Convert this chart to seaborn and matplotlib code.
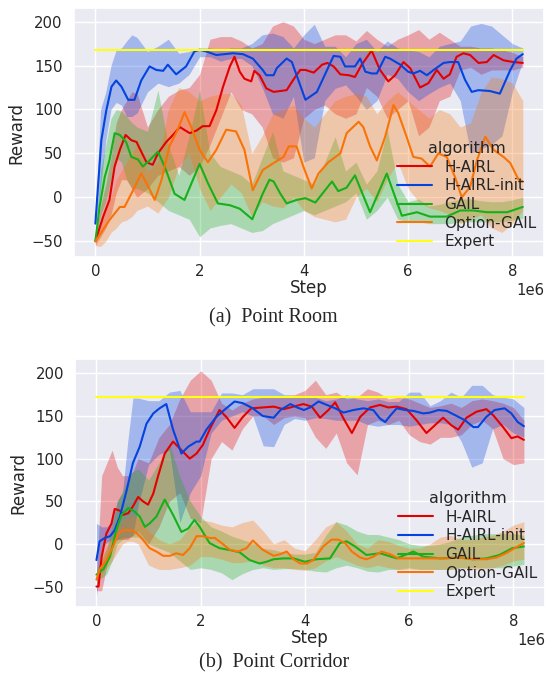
import numpy as np
import pandas as pd
import matplotlib
matplotlib.use('Agg')
import matplotlib.pyplot as plt
import seaborn as sns

algorithms = ['H-AIRL', 'H-AIRL-init', 'GAIL', 'Option-GAIL', 'Expert']
palette = dict(zip(algorithms, sns.xkcd_palette(['red', 'blue', 'green', 'orange', 'yellow'])))

# ---------------- (a) Point Room : mean curves (step in 1e6) ----------------
room_hairl_x = [0, 0.15, 0.27, 0.37, 0.47, 0.58, 0.69, 0.79, 0.88, 0.98, 1.1, 1.2, 1.36, 1.49, 1.62,
                1.81, 1.94, 2.06, 2.19, 2.32, 2.45, 2.58, 2.67, 2.77, 2.86, 2.99, 3.05, 3.15, 3.28, 3.42,
                3.67, 3.8, 3.93, 4.03, 4.19, 4.35, 4.45, 4.57, 4.70, 4.86, 4.98, 5.11, 5.3, 5.46, 5.62,
                5.75, 5.91, 6.04, 6.23, 6.39, 6.55, 6.68, 6.8, 6.93, 7.06, 7.19, 7.35, 7.51, 7.64, 7.83,
                8.02, 8.2]
room_hairl_y = [-50, -22, -3, 35, 54, 71, 65, 63, 52, 40, 37, 50, 63, 71, 80,
                73, 76, 81, 81, 99, 126, 149, 160, 143, 135, 132, 144, 139, 124, 120,
                122, 134, 145, 145, 142, 151, 153, 149, 140, 139, 137, 151, 167, 145, 132,
                139, 154, 147, 125, 130, 145, 135, 140, 160, 164, 162, 153, 154, 162, 156,
                154, 153]

room_init_x = [0, 0.05, 0.115, 0.21, 0.31, 0.4, 0.5, 0.63, 0.75, 0.88, 1.04, 1.17, 1.3, 1.39, 1.55,
               1.74, 1.9, 2.0, 2.13, 2.32, 2.64, 2.83, 3.02, 3.21, 3.28, 3.42, 3.48, 3.67, 3.77, 4.03,
               4.25, 4.43, 4.57, 4.70, 4.79, 4.98, 5.08, 5.18, 5.30, 5.40, 5.56, 5.65, 5.85, 6.0, 6.10,
               6.23, 6.36, 6.49, 6.68, 6.8, 6.96, 7.09, 7.22, 7.35, 7.57, 7.76, 7.96, 8.08, 8.2]
room_init_y = [-30, 12, 65, 99, 126, 133, 126, 111, 111, 133, 149, 145, 144, 151, 140,
               149, 166, 168, 166, 162, 164, 163, 158, 145, 139, 139, 147, 158, 154, 111,
               120, 143, 161, 160, 149, 149, 158, 143, 141, 141, 160, 158, 151, 143, 141,
               144, 139, 145, 153, 154, 154, 134, 120, 122, 121, 118, 145, 158, 163]

room_gail_x = [0, 0.08, 0.18, 0.27, 0.37, 0.47, 0.59, 0.69, 0.82, 0.91, 1.04, 1.2, 1.33, 1.52, 1.71,
               2.0, 2.16, 2.35, 2.58, 2.77, 3.01, 3.21, 3.34, 3.42, 3.55, 3.67, 3.86, 4.03, 4.22, 4.54,
               4.66, 4.82, 4.98, 5.27, 5.59, 5.88, 6.17, 6.42, 6.74, 7.0, 7.25, 7.51, 7.9, 8.2]
room_gail_y = [-50, -11, 23, 42, 73, 71, 63, 46, 43, 35, 42, 52, 35, 4, -3,
               38, 16, -7, -9, -13, -25, 4, 20, 18, 4, -7, -3, -1, -6, 18,
               7, 11, 25, -17, 27, -21, -17, -22, -22, -15, -15, -17, -17, -11]

room_option_x = [0, 0.08, 0.27, 0.47, 0.56, 0.69, 0.88, 1.0, 1.14, 1.27, 1.42, 1.58, 1.71, 1.84, 2.0,
                 2.16, 2.32, 2.51, 2.7, 2.86, 3.02, 3.21, 3.42, 3.61, 3.71, 3.86, 3.99, 4.15, 4.28, 4.47,
                 4.70, 4.82, 5.05, 5.14, 5.27, 5.4, 5.56, 5.72, 5.81, 5.97, 6.1, 6.26, 6.42, 6.58, 6.74,
                 6.9, 7.03, 7.19, 7.32, 7.48, 7.64, 7.83, 7.96, 8.12, 8.2]
room_option_y = [-50, -43, -26, -11, -11, 4, 27, 14, -3, 20, 58, 77, 97, 80, 54,
                 40, 54, 77, 75, 54, 8, 31, 39, 46, 58, 58, 35, 10, 27, 40,
                 50, 73, 86, 80, 58, 42, 69, 105, 96, 69, 46, 44, 35, 50, 46,
                 23, 0, 12, 42, 69, 54, 46, 39, 20, 18]

room_expert_x = [0, 8.2]
room_expert_y = [167.7, 167.7]

# confidence bands, sampled on a coarser step grid
band_grid = [0, 0.1, 0.2, 0.3, 0.4, 0.5, 0.6, 0.7, 0.8, 1.0, 1.2, 1.4, 1.6, 1.8, 2.0, 2.2, 2.4, 2.6,
             2.8, 3.0, 3.2, 3.4, 3.6, 3.8, 4.0, 4.2, 4.4, 4.6, 4.8, 5.0, 5.2, 5.4, 5.6, 5.8, 6.0, 6.2,
             6.4, 6.6, 6.8, 7.0, 7.2, 7.4, 7.6, 7.8, 8.0, 8.2]

room_hairl_lo = [-55, -45, -35, -20, 5, 20, 20, 10, 0, 10, 25, 30, 35, 25, 35, 60, 90, 120, 100, 95,
                 80, 45, 40, 45, 90, 100, 105, 95, 90, 95, 125, 115, 90, 100, 110, 70, 80, 110, 115, 145,
                 148, 140, 145, 145, 145, 148]
room_hairl_hi = [-45, -10, 15, 45, 85, 100, 110, 120, 118, 80, 100, 115, 122, 125, 140, 180, 183, 183, 178, 170,
                 175, 195, 200, 195, 180, 175, 180, 185, 185, 178, 190, 180, 172, 180, 185, 191, 180, 188, 180, 172,
                 172, 170, 170, 168, 165, 160]
room_init_lo = [-35, 10, 65, 100, 108, 105, 92, 92, 96, 120, 130, 126, 130, 140, 160, 160, 155, 158, 158, 150,
                125, 95, 90, 115, 40, 45, 110, 124, 128, 115, 100, 110, 140, 135, 120, 110, 118, 125, 130, 110,
                50, 55, 60, 70, 120, 155]
room_init_hi = [-25, 100, 120, 150, 168, 170, 178, 185, 182, 166, 172, 180, 164, 166, 170, 170, 168, 170, 170, 175,
                185, 187, 183, 170, 185, 197, 172, 172, 160, 175, 180, 166, 178, 170, 168, 166, 160, 172, 175, 178,
                195, 198, 195, 185, 175, 170]
room_gail_lo = [-52, -20, -5, 20, 45, 40, 20, 10, 10, 5, -5, -15, -20, -25, -45, -35, -32, -30, -35, -40,
                -38, -30, -25, -20, -15, -20, -15, -10, -5, 5, -25, -15, 0, -25, -28, -28, -30, -30, -30, -28,
                -28, -28, -28, -28, -26, -24]
room_gail_hi = [-48, 30, 60, 90, 100, 98, 92, 85, 80, 75, 122, 60, 25, 70, 122, 50, 35, 30, 25, 15,
                45, 75, 30, 25, 20, 15, 40, 69, 30, 40, 15, 30, 77, 15, -5, -2, -10, -8, -5, -2,
                -2, -4, -5, -5, -3, 0]
room_option_lo = [-55, -56, -50, -40, -35, -28, -26, -22, -15, -10, -18, 0, 35, 50, 10, -15, 0, 15, 5, -22,
                  -5, -10, -12, 0, -15, -22, -25, -28, -25, 0, 10, -5, 20, 40, 10, -5, -12, -15, -20, -30,
                  -25, -20, -35, -40, -30, -15]
room_option_hi = [-45, -30, -15, 0, 20, 30, 40, 50, 60, 30, 40, 100, 125, 120, 110, 115, 118, 118, 105, 50,
                  70, 95, 100, 105, 90, 80, 95, 110, 115, 118, 115, 95, 110, 120, 110, 100, 90, 100, 95, 80,
                  85, 120, 137, 135, 130, 110]

# ---------------- (b) Point Corridor ----------------
corr_hairl_x = [0, 0.04, 0.1, 0.19, 0.29, 0.35, 0.45, 0.51, 0.61, 0.7, 0.8, 0.89, 0.99, 1.09, 1.18,
                1.31, 1.47, 1.63, 1.79, 1.92, 2.04, 2.17, 2.36, 2.49, 2.65, 2.81, 2.97, 3.19, 3.4, 3.59,
                3.78, 3.97, 4.13, 4.29, 4.45, 4.58, 4.74, 4.9, 5.06, 5.25, 5.44, 5.6, 5.76, 5.95, 6.14,
                6.33, 6.49, 6.65, 6.81, 6.94, 7.1, 7.29, 7.48, 7.61, 7.8, 7.96, 8.08, 8.2]
corr_hairl_y = [-50, -50, -15, 12, 24, 41, 39, 34, 36, 44, 55, 50, 46, 59, 79,
                106, 120, 110, 100, 106, 116, 134, 157, 149, 136, 149, 159, 160, 161, 158,
                161, 164, 161, 148, 157, 166, 147, 130, 149, 160, 163, 160, 161, 158, 145,
                130, 139, 148, 139, 134, 148, 155, 158, 151, 137, 124, 126, 122]

corr_init_x = [0, 0.06, 0.16, 0.26, 0.35, 0.45, 0.58, 0.7, 0.83, 0.96, 1.09, 1.21, 1.34, 1.47, 1.63,
               1.76, 1.92, 1.98, 2.11, 2.3, 2.49, 2.65, 2.81, 3.0, 3.19, 3.4, 3.53, 3.72, 3.85, 3.98,
               4.1, 4.26, 4.42, 4.58, 4.74, 4.93, 5.12, 5.31, 5.44, 5.54, 5.63, 5.76, 5.92, 6.08, 6.27,
               6.4, 6.56, 6.72, 6.88, 7.07, 7.23, 7.32, 7.48, 7.64, 7.83, 7.96, 8.08, 8.2]
corr_init_y = [-19, 3, 7, 9, 16, 32, 63, 95, 114, 141, 153, 159, 164, 134, 106,
               114, 120, 120, 134, 149, 159, 167, 165, 159, 150, 148, 157, 164, 160, 157,
               160, 167, 163, 159, 154, 157, 159, 157, 147, 143, 150, 159, 157, 156, 153,
               154, 157, 156, 151, 145, 137, 137, 149, 157, 159, 153, 143, 138]

corr_gail_x = [0, 0.13, 0.26, 0.38, 0.48, 0.61, 0.73, 0.83, 0.93, 1.02, 1.15, 1.31, 1.47, 1.63, 1.76,
               1.88, 1.98, 2.17, 2.36, 2.62, 2.75, 2.94, 3.13, 3.26, 3.4, 3.59, 3.78, 4.0, 4.22, 4.48,
               4.67, 4.8, 4.96, 5.18, 5.44, 5.76, 6.08, 6.27, 6.59, 6.97, 7.22, 7.48, 7.73, 7.98, 8.2]
corr_gail_y = [-36, -30, -15, 16, 34, 42, 38, 32, 20, 24, 32, 52, 34, 14, 18,
               28, 20, 1, -5, -8, -10, -19, -23, -21, -18, -17, -17, -21, -18, -17,
               1, 3, -3, -13, -11, -17, -9, -15, -17, -16, -18, -17, -13, -5, -3]

corr_option_x = [0, 0.06, 0.19, 0.32, 0.42, 0.51, 0.67, 0.77, 0.89, 1.02, 1.15, 1.28, 1.41, 1.53, 1.66,
                 1.79, 1.92, 2.04, 2.17, 2.27, 2.4, 2.56, 2.72, 2.88, 3.0, 3.19, 3.4, 3.53, 3.65, 3.78,
                 3.91, 4.04, 4.16, 4.35, 4.51, 4.64, 4.77, 4.9, 5.06, 5.18, 5.31, 5.47, 5.63, 5.79, 5.95,
                 6.21, 6.46, 6.72, 6.97, 7.22, 7.48, 7.67, 7.86, 8.05, 8.2]
corr_option_y = [-42, -30, -19, -3, 12, 16, 16, 13, 5, -5, -9, -14, -14, -11, -13,
                 -5, 9, 9, 7, 7, 1, -7, -9, -5, 4, -7, -14, -12, -9, -18,
                 -23, -23, -19, -3, 5, 5, 1, -9, -16, -18, -15, -9, -12, -17, -17,
                 -17, -17, -17, -16, -18, -18, -16, -11, -4, 1]

corr_expert_x = [0, 8.2]
corr_expert_y = [171.9, 171.9]

corr_hairl_lo = [-55, -55, -25, 0, 5, 5, 5, 10, 15, 0, 20, 50, 60, 30, 25, 100, 120, 110, 135, 150,
                 150, 140, 148, 150, 148, 125, 112, 130, 95, 81, 140, 145, 140, 145, 128, 120, 117, 125, 125, 128,
                 140, 145, 135, 100, 93, 95]
corr_hairl_hi = [-40, 80, 95, 110, 90, 80, 80, 85, 100, 95, 125, 140, 170, 192, 203, 192, 165, 157, 165, 170,
                 172, 172, 174, 175, 180, 192, 175, 178, 170, 172, 182, 178, 170, 172, 170, 165, 160, 162, 165, 160,
                 168, 170, 168, 165, 160, 145]
corr_init_lo = [-62, -5, 2, 5, 5, 7, 7, 10, 45, 93, 105, 110, 25, 60, 80, 130, 145, 150, 155, 150,
                115, 114, 140, 147, 145, 148, 147, 145, 145, 145, 140, 138, 140, 140, 138, 140, 142, 142, 140, 120,
                90, 95, 135, 140, 130, 125]
corr_init_hi = [24, 20, 20, 25, 50, 60, 120, 171, 171, 168, 168, 178, 180, 155, 155, 155, 177, 177, 175, 182,
                182, 182, 175, 174, 172, 172, 168, 170, 175, 170, 168, 170, 167, 167, 178, 178, 162, 168, 178, 172,
                186, 186, 175, 172, 170, 160]
corr_gail_lo = [-40, -40, -35, -20, 0, 5, 8, 8, 8, 0, -5, -10, -20, -30, -28, -30, -34, -42, -35, -30,
                -28, -30, -29, -29, -30, -32, -33, -28, -25, -28, -32, -33, -30, -30, -28, -30, -30, -30, -30, -28,
                -28, -28, -28, -28, -26, -24]
corr_gail_hi = [-30, -20, -5, 20, 50, 62, 75, 85, 88, 75, 95, 118, 79, 50, 32, 20, 15, 9, 5, 1,
                -5, -7, -10, -12, -12, -10, 10, 26, 22, 15, 11, 11, 8, 5, 0, -2, -2, 0, 3, 8,
                10, 12, 12, 12, 12, 10]
corr_option_lo = [-45, -35, -28, -20, -10, 0, 3, 3, 0, -25, -30, -30, -28, -25, -15, -15, -18, -22, -22, -19,
                  -25, -28, -28, -30, -31, -28, -20, -15, -20, -25, -28, -25, -28, -30, -30, -30, -30, -30, -30, -28,
                  -30, -30, -28, -25, -20, -18]
corr_option_hi = [-38, -15, -5, 10, 22, 28, 32, 35, 30, 15, 5, 0, 5, 20, 28, 26, 22, 20, 25, 28,
                  15, 0, 5, -5, -8, 5, 20, 26, 15, 0, -5, 5, 3, -2, -5, -5, 0, 8, 10, 5,
                  5, 8, 10, 15, 22, 26]


def make_df(lines):
    frames = []
    for alg, (xs, ys) in lines.items():
        frames.append(pd.DataFrame({'Step': np.array(xs) * 1e6, 'Reward': ys, 'algorithm': alg}))
    return pd.concat(frames, ignore_index=True)


def draw(ax, lines, bands, ylim):
    steps = np.array(band_grid) * 1e6
    for alg, (lo, hi) in bands.items():
        ax.fill_between(steps, lo, hi, color=palette[alg], alpha=0.3, linewidth=0)
    sns.lineplot(data=make_df(lines), x='Step', y='Reward', hue='algorithm', hue_order=algorithms,
                 palette=palette, errorbar=None, linewidth=1.5, ax=ax)
    ax.set_ylim(*ylim)
    ax.set_yticks([-50, 0, 50, 100, 150, 200])
    ax.set_xticks([0, 2e6, 4e6, 6e6, 8e6])
    ax.set_xlabel('Step', labelpad=0)
    ax.set_ylabel('Reward', labelpad=4)
    sns.move_legend(ax, 'lower right', frameon=False, borderaxespad=0.1, labelspacing=0.24,
                    handlelength=2.3, title_fontsize=11.5)


sns.set_theme(style='darkgrid')
plt.rcParams['font.family'] = ['DejaVu Sans']
plt.rcParams['xtick.major.size'] = 0
plt.rcParams['ytick.major.size'] = 0
plt.rcParams['xtick.major.pad'] = 5
plt.rcParams['ytick.major.pad'] = 8
plt.rcParams['xtick.labelsize'] = 10.7
plt.rcParams['ytick.labelsize'] = 10.7

fig = plt.figure(figsize=(5.48, 6.81), dpi=100)
ax1 = fig.add_axes([0.135, 0.6226, 0.858, 0.3656])
ax2 = fig.add_axes([0.137, 0.1087, 0.858, 0.3637])

draw(ax1,
     {'H-AIRL': (room_hairl_x, room_hairl_y), 'H-AIRL-init': (room_init_x, room_init_y),
      'GAIL': (room_gail_x, room_gail_y), 'Option-GAIL': (room_option_x, room_option_y),
      'Expert': (room_expert_x, room_expert_y)},
     {'H-AIRL': (room_hairl_lo, room_hairl_hi), 'H-AIRL-init': (room_init_lo, room_init_hi),
      'GAIL': (room_gail_lo, room_gail_hi), 'Option-GAIL': (room_option_lo, room_option_hi)},
     (-68, 215.5))

draw(ax2,
     {'H-AIRL': (corr_hairl_x, corr_hairl_y), 'H-AIRL-init': (corr_init_x, corr_init_y),
      'GAIL': (corr_gail_x, corr_gail_y), 'Option-GAIL': (corr_option_x, corr_option_y),
      'Expert': (corr_expert_x, corr_expert_y)},
     {'H-AIRL': (corr_hairl_lo, corr_hairl_hi), 'H-AIRL-init': (corr_init_lo, corr_init_hi),
      'GAIL': (corr_gail_lo, corr_gail_hi), 'Option-GAIL': (corr_option_lo, corr_option_hi)},
     (-74, 216.5))

fig.text(0.499, 1 - 318 / 681, '(a)  Point Room', ha='center', va='center',
         family='Liberation Serif', fontsize=14.5)
fig.text(0.5, 1 - 663 / 681, '(b)  Point Corridor', ha='center', va='center',
         family='Liberation Serif', fontsize=14.5)

fig.savefig('out.png', dpi=100)
